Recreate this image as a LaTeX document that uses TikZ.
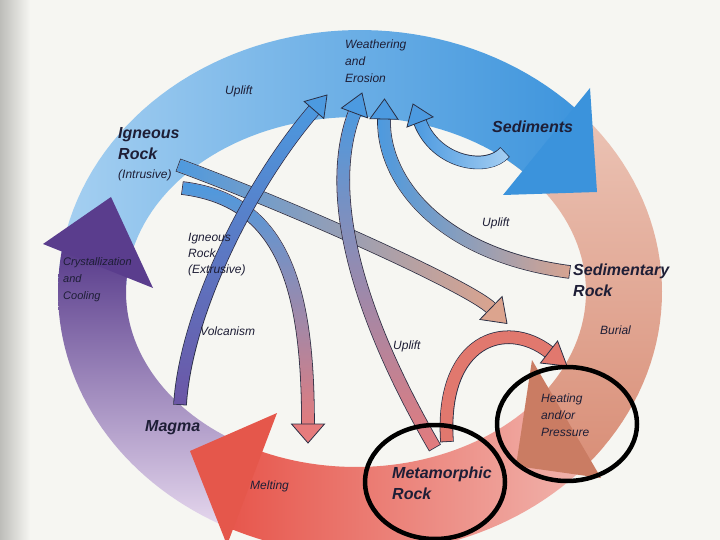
\documentclass[tikz,border=0pt]{standalone}
\usepackage{fontspec}
\setmainfont{Liberation Sans}
\usetikzlibrary{calc,fadings}

\definecolor{bgc}{HTML}{F6F6F2}
\definecolor{scan}{HTML}{BDBDB9}
\definecolor{txt}{HTML}{1E1E36}
\definecolor{rimc}{HTML}{2A2F45}
\definecolor{blueL}{HTML}{A6D0F1}
\definecolor{blueR}{HTML}{3B93DC}
\definecolor{salT}{HTML}{ECC6B8}
\definecolor{salB}{HTML}{D98F78}
\definecolor{pinkL}{HTML}{E7564C}
\definecolor{pinkM}{HTML}{E48282}
\definecolor{pinkR}{HTML}{F1B9B2}
\definecolor{purT}{HTML}{553889}
\definecolor{purM}{HTML}{8E70B0}
\definecolor{purB}{HTML}{E6D8EE}
\definecolor{heatc}{HTML}{CA7C63}
\definecolor{meltc}{HTML}{E5574B}
\definecolor{crysc}{HTML}{5A3D8D}
\definecolor{skyc}{HTML}{4C9AE0}
\definecolor{skyL}{HTML}{A8D0F3}
\definecolor{violc}{HTML}{6D55A5}
\definecolor{rosec}{HTML}{E67B7C}
\definecolor{tanc}{HTML}{DCA48E}
\definecolor{archc}{HTML}{E1786E}

\begin{document}
\begin{tikzpicture}[x=1pt,y=-1pt,
    shaftline/.style={line width=12pt, shorten <=0.8pt},
    shaftrim/.style={line width=13.6pt, color=rimc},
    tipfill/.style={draw=rimc, line width=0.8pt, line join=miter},
    lbl/.style={inner sep=0pt, anchor=base west, align=left, text=txt, font=\fontsize{12}{17}\selectfont\itshape},
    biglbl/.style={inner sep=0pt, anchor=base west, align=left, text=txt, font=\fontsize{16}{21}\selectfont\bfseries\itshape},
    circ/.style={line width=4.5pt, black}]
    \useasboundingbox (0,0) rectangle (720,540);
    \clip (0,0) rectangle (720,540);
    \fill[bgc] (0,0) rectangle (720,540);
    \shade[left color=scan, right color=bgc] (0,0) rectangle (30,540);

    % the big cycle
    \shade[left color=pinkL, middle color=pinkM, right color=pinkR]
        plot[domain=-116:-36, samples=40] ({360+302*cos(\x)},{292-262*sin(\x)})
        -- plot[domain=-36:-116, samples=40] ({356+230*cos(\x)},{292-175*sin(\x)}) -- cycle;
    \shade[top color=salT, bottom color=salB]
        plot[domain=48:-41, samples=40] ({360+302*cos(\x)},{292-262*sin(\x)})
        -- plot[domain=-41:48, samples=40] ({356+230*cos(\x)},{292-175*sin(\x)}) -- cycle;
    \shade[left color=blueL, right color=blueR]
        plot[domain=178:40, samples=60] ({360+302*cos(\x)},{292-262*sin(\x)})
        -- plot[domain=40:178, samples=60] ({356+230*cos(\x)},{292-175*sin(\x)}) -- cycle;
    \shade[top color=purT, middle color=purM, bottom color=purB]
        plot[domain=244:169, samples=40] ({360+302*cos(\x)},{292-262*sin(\x)})
        -- plot[domain=169:244, samples=40] ({356+230*cos(\x)},{292-175*sin(\x)}) -- cycle;
    \fill[blueR] (590,88) -- (597,192) -- (503,195) -- cycle;
    \fill[heatc] (532,360) -- (516,466) -- (601,478) -- cycle;
    \fill[meltc] (277,413) -- (190,451) -- (227,545) -- cycle;
    \fill[crysc] (43,244) -- (111,197) -- (153,288) -- cycle;

    % arrows inside the cycle
    \coordinate (as) at (178,165);
    \coordinate (ae) at (491,308);
    \coordinate (at) at (507,323.5);
    \draw[shaftrim] (as) .. controls (300,210) and ($(ae)!-30pt!(at)$) .. (ae);
    \draw[shaftline, tanc] (as) .. controls (300,210) and ($(ae)!-30pt!(at)$) .. (ae);
    \draw[shaftline, skyc, path fading=east] (as) .. controls (300,210) and ($(ae)!-30pt!(at)$) .. (ae);
    \filldraw[tipfill, fill=tanc] ($(ae)!16pt!90:(at)$) -- (at) -- ($(ae)!16pt!-90:(at)$) -- cycle;

    \coordinate (bs) at (182,188);
    \coordinate (be) at (308,424);
    \coordinate (bt) at (308,443);
    \draw[shaftrim] (bs) .. controls (280,200) and ($(be)!-144pt!(bt)$) .. (be);
    \draw[shaftline, rosec] (bs) .. controls (280,200) and ($(be)!-144pt!(bt)$) .. (be);
    \draw[shaftline, skyc, path fading=south] (bs) .. controls (280,200) and ($(be)!-144pt!(bt)$) .. (be);
    \filldraw[tipfill, fill=rosec] ($(be)!16.5pt!90:(bt)$) -- (bt) -- ($(be)!16.5pt!-90:(bt)$) -- cycle;

    \coordinate (vs) at (180,405);
    \coordinate (ve) at (314,110);
    \coordinate (vt) at (327,95);
    \draw[shaftrim] (vs) .. controls (186,310) and ($(ve)!-95pt!(vt)$) .. (ve);
    \draw[shaftline, violc] (vs) .. controls (186,310) and ($(ve)!-95pt!(vt)$) .. (ve);
    \draw[shaftline, skyc, path fading=south] (vs) .. controls (186,310) and ($(ve)!-95pt!(vt)$) .. (ve);
    \filldraw[tipfill, fill=skyc] ($(ve)!13pt!90:(vt)$) -- (vt) -- ($(ve)!13pt!-90:(vt)$) -- cycle;

    \coordinate (ms) at (435,448);
    \coordinate (me) at (354.5,113);
    \coordinate (mt) at (362,93);
    \draw[shaftrim] (ms) .. controls (372,340) and ($(me)!-100pt!(mt)$) .. (me);
    \draw[shaftline, rosec] (ms) .. controls (372,340) and ($(me)!-100pt!(mt)$) .. (me);
    \draw[shaftline, skyc, path fading=south] (ms) .. controls (372,340) and ($(me)!-100pt!(mt)$) .. (me);
    \filldraw[tipfill, fill=skyc] ($(me)!14pt!90:(mt)$) -- (mt) -- ($(me)!14pt!-90:(mt)$) -- cycle;

    \coordinate (ss) at (570,272);
    \coordinate (se) at (384,119);
    \coordinate (st) at (384.5,99);
    \draw[shaftrim] (ss) .. controls (440,255) and ($(se)!-62pt!(st)$) .. (se);
    \draw[shaftline, tanc] (ss) .. controls (440,255) and ($(se)!-62pt!(st)$) .. (se);
    \draw[shaftline, skyc, path fading=east] (ss) .. controls (440,255) and ($(se)!-62pt!(st)$) .. (se);
    \filldraw[tipfill, fill=skyc] ($(se)!14pt!90:(st)$) -- (st) -- ($(se)!14pt!-90:(st)$) -- cycle;

    \coordinate (ks) at (505,152);
    \coordinate (ke) at (420,122);
    \coordinate (kt) at (413,104);
    \draw[shaftrim] (ks) .. controls (488,172) and ($(ke)!-45pt!(kt)$) .. (ke);
    \draw[shaftline, skyc] (ks) .. controls (488,172) and ($(ke)!-45pt!(kt)$) .. (ke);
    \draw[shaftline, skyL, path fading=west] (ks) .. controls (488,172) and ($(ke)!-45pt!(kt)$) .. (ke);
    \filldraw[tipfill, fill=skyc] ($(ke)!14pt!90:(kt)$) -- (kt) -- ($(ke)!14pt!-90:(kt)$) -- cycle;

    \coordinate (hs) at (447,442);
    \coordinate (he) at (549,352);
    \coordinate (ht) at (567,366);
    \draw[shaftrim] (hs) .. controls (440,340) and ($(he)!-55pt!(ht)$) .. (he);
    \draw[shaftline, archc] (hs) .. controls (440,340) and ($(he)!-55pt!(ht)$) .. (he);
    \filldraw[tipfill, fill=archc] ($(he)!14pt!90:(ht)$) -- (ht) -- ($(he)!14pt!-90:(ht)$) -- cycle;

    % labels (multi-line ones sit on the baseline of their last line)
    \node[biglbl] (ign) at (118,160) {Igneous\\Rock};
    \node[lbl] (intr) at (118,179) {(Intrusive)};
    \node[lbl] (up1) at (225,95) {Uplift};
    \node[lbl] (weath) at (345,83) {Weathering\\and\\Erosion};
    \node[biglbl] (sed) at (492,133) {Sediments};
    \node[lbl] (up2) at (482,226) {Uplift};
    \node[biglbl] (sedr) at (573,296) {Sedimentary\\Rock};
    \node[lbl] (bur) at (600,334) {Burial};
    \node[lbl] (heat) at (541,436) {Heating\\and/or\\Pressure};
    \node[biglbl] (meta) at (392,499) {Metamorphic\\Rock};
    \node[lbl] (up3) at (393,349) {Uplift};
    \node[lbl] (melt) at (250,489) {Melting};
    \node[biglbl] (mag) at (145,431) {Magma};
    \node[lbl] (volc) at (200,335) {Volcanism};
    \node[lbl, font=\fontsize{12}{16}\selectfont\itshape] (ext) at (188,273) {Igneous\\Rock\\(Extrusive)};
    \node[lbl, font=\fontsize{11}{17}\selectfont\itshape] (cryst) at (63,299) {Crystallization\\and\\Cooling};

    % marks drawn over the page
    \draw[circ] (435,482) ellipse [x radius=70pt, y radius=57pt];
    \draw[circ] (567,424) ellipse [x radius=70pt, y radius=57pt];
\end{tikzpicture}
\end{document}
